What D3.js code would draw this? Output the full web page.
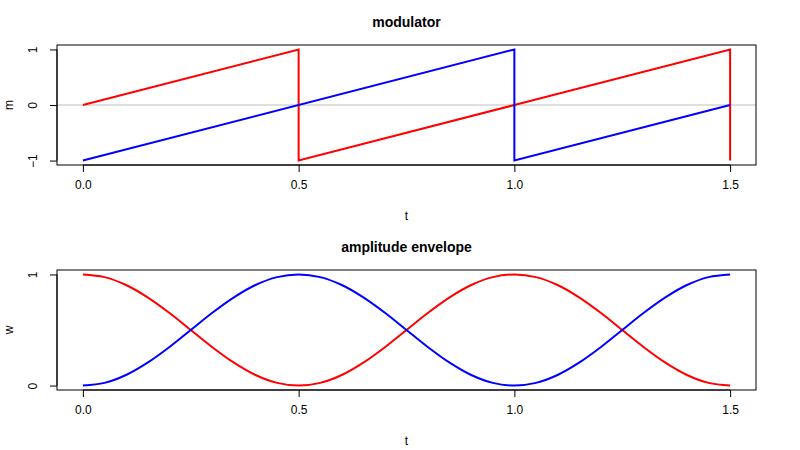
<!DOCTYPE html>
<html><head><meta charset="utf-8">
<script src="https://cdn.jsdelivr.net/npm/d3@7"></script>
<style>body{margin:0;background:#fff}text{font-family:"Liberation Sans",Arial,sans-serif}</style>
</head><body><svg id="chart" width="800" height="450"></svg>
<script>
// modulator (sawtooth) points, duplicated t marks the vertical drops
const modT = [0, 0.5, 0.5, 1.0, 1.5, 1.5];
const modRed = [0, 1, -1, 0, 1, -1];
const blueT = [0, 1.0, 1.0, 1.5];
const modBlue = [-1, 1, -1, 0];

// amplitude envelope read every 0.05 in t
const envT = [0,0.05,0.1,0.15,0.2,0.25,0.3,0.35,0.4,0.45,0.5,0.55,0.6,0.65,0.7,0.75,0.8,0.85,0.9,0.95,1.0,
  1.05,1.1,1.15,1.2,1.25,1.3,1.35,1.4,1.45,1.5];
const envRed = [1,0.976,0.905,0.794,0.655,0.5,0.345,0.206,0.095,0.024,0,0.024,0.095,0.206,0.345,0.5,0.655,0.794,0.905,0.976,1,
  0.976,0.905,0.794,0.655,0.5,0.345,0.206,0.095,0.024,0];
const envBlue = [0,0.024,0.095,0.206,0.345,0.5,0.655,0.794,0.905,0.976,1,0.976,0.905,0.794,0.655,0.5,0.345,0.206,0.095,0.024,0,
  0.024,0.095,0.206,0.345,0.5,0.655,0.794,0.905,0.976,1];

const xTicks = [0, 0.5, 1.0, 1.5];

const svg = d3.select('#chart');

function panel(top, title, ylab, yDomain, yTicks, yFmt, series, curve, hline) {
  const left = 57, right = 756, bottom = top + 120;
  const x = d3.scaleLinear().domain([-0.06, 1.56]).range([left, right]);
  const y = d3.scaleLinear().domain(yDomain).range([bottom, top]);
  const g = svg.append('g');

  if (hline !== null) {
    g.append('line').attr('x1', left).attr('x2', right)
      .attr('y1', y(hline)).attr('y2', y(hline)).attr('stroke', '#bebebe');
  }
  series.forEach(s => {
    const line = d3.line().x((d, i) => x(s.t[i])).y(d => y(d)).curve(curve);
    g.append('path').attr('d', line(s.v)).attr('fill', 'none')
      .attr('stroke', s.color).attr('stroke-width', 2);
  });

  g.append('rect').attr('x', left).attr('y', top).attr('width', right - left)
    .attr('height', bottom - top).attr('fill', 'none').attr('stroke', '#000');

  const ax = g.append('g').attr('transform', `translate(0,${bottom})`)
    .call(d3.axisBottom(x).tickValues(xTicks).tickFormat(d3.format('.1f')).tickSizeOuter(0).tickSize(7).tickPadding(8));
  ax.select('.domain').attr('d', `M${x(0)},0H${x(1.5)}`);
  ax.selectAll('text').attr('font-size', 12).attr('fill', '#000').attr('font-family', '"Liberation Sans",Arial,sans-serif');

  const ay = g.append('g').attr('transform', `translate(${left},0)`)
    .call(d3.axisLeft(y).tickValues(yTicks).tickFormat(yFmt).tickSizeOuter(0).tickSize(7).tickPadding(10));
  ay.select('.domain').attr('d', `M0,${y(yTicks[0])}V${y(yTicks[yTicks.length - 1])}`);
  ay.selectAll('text').attr('font-size', 12).attr('fill', '#000').attr('font-family', '"Liberation Sans",Arial,sans-serif')
    .attr('text-anchor', 'middle').attr('x', 0).attr('dy', null)
    .attr('transform', 'translate(-20,0) rotate(-90)');

  svg.append('text').attr('x', (left + right) / 2).attr('y', top - 18).attr('text-anchor', 'middle')
    .attr('font-weight', 'bold').attr('font-size', 14).text(title);
  svg.append('text').attr('x', (left + right) / 2).attr('y', bottom + 55).attr('text-anchor', 'middle')
    .attr('font-size', 12).text('t');
  svg.append('text').attr('transform', `translate(13,${(top + bottom) / 2}) rotate(-90)`)
    .attr('text-anchor', 'middle').attr('font-size', 12).text(ylab);
}

panel(45, 'modulator', 'm', [-1.08, 1.08], [-1, 0, 1], d3.format('d'),
  [{t: modT, v: modRed, color: 'red'}, {t: blueT, v: modBlue, color: 'blue'}], d3.curveLinear, 0);
panel(270, 'amplitude envelope', 'w', [-0.04, 1.04], [0, 1], d3.format('d'),
  [{t: envT, v: envRed, color: 'red'}, {t: envT, v: envBlue, color: 'blue'}], d3.curveCatmullRom, null);
</script></body></html>
